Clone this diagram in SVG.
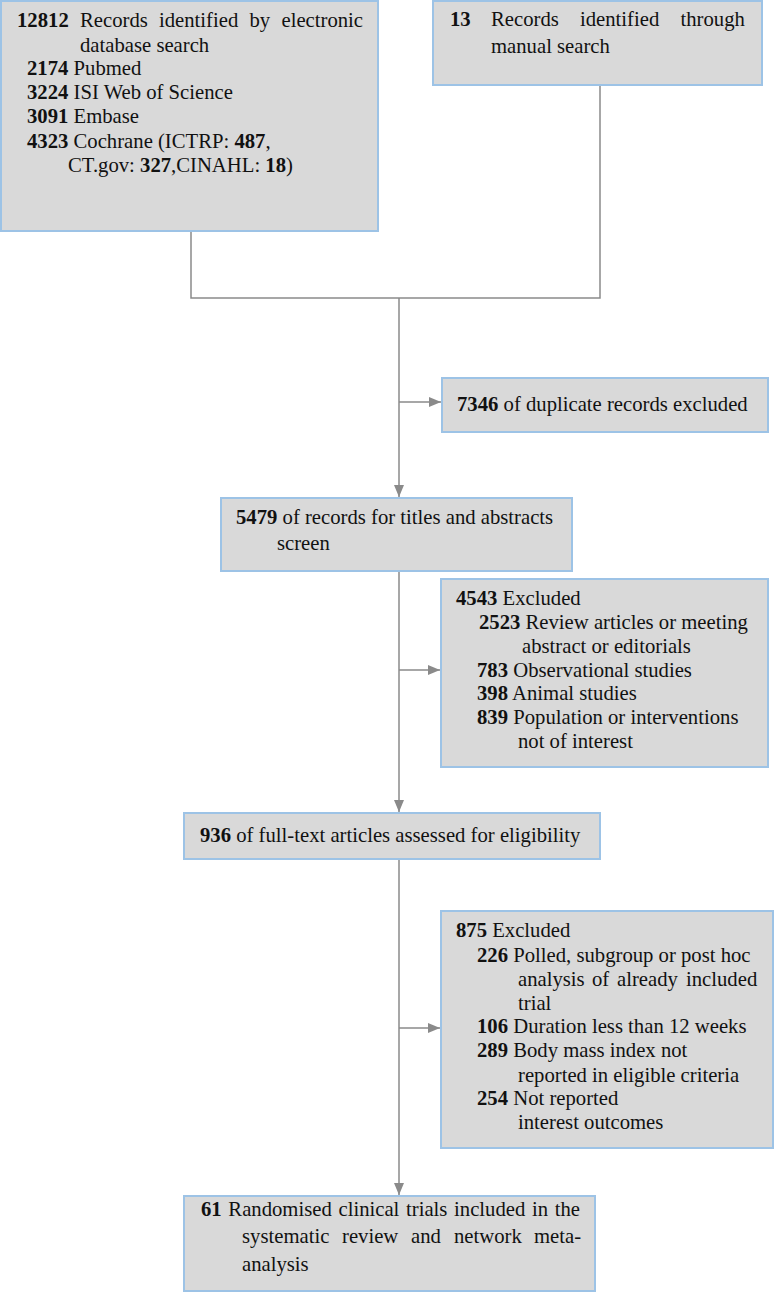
<svg xmlns="http://www.w3.org/2000/svg" width="774" height="1293" viewBox="0 0 774 1293">
<defs>
<style>
.box{fill:#d9d9d9;stroke:#9dc3e6;stroke-width:2}
.t{font-family:"Liberation Serif","Times New Roman",serif;font-size:20.7px;fill:#111}
.b{font-weight:bold}
.c{fill:none;stroke:#8a8a8a;stroke-width:1.5}
</style>
<marker id="ah" markerUnits="userSpaceOnUse" markerWidth="12" markerHeight="12" viewBox="0 0 12 12" refX="12" refY="6" orient="auto">
<path d="M0,1 L12,6 L0,11 Z" fill="#8a8a8a"/>
</marker>
</defs>
<rect width="774" height="1293" fill="#ffffff"/>
<g id="connectors">
<path class="c" d="M191,231 V298 H600 V85"/>
<path class="c" d="M399,298 V497" marker-end="url(#ah)"/>
<path class="c" d="M399,402 H441" marker-end="url(#ah)"/>
<path class="c" d="M399,571 V812" marker-end="url(#ah)"/>
<path class="c" d="M399,670 H440" marker-end="url(#ah)"/>
<path class="c" d="M399,859 V1195" marker-end="url(#ah)"/>
<path class="c" d="M399,1028 H440" marker-end="url(#ah)"/>
</g>
<g id="n1">
<rect class="box" x="1" y="1" width="377" height="230"/>
<text class="t"><tspan class="b" x="17" y="27">12812</tspan><tspan x="80" y="27">Records</tspan><tspan x="159" y="27">identified</tspan><tspan x="249.5" y="27">by</tspan><tspan x="281.5" y="27">electronic</tspan></text>
<text class="t" x="80" y="52">database search</text>
<text class="t" x="27" y="75"><tspan class="b">2174</tspan> Pubmed</text>
<text class="t" x="27" y="99"><tspan class="b">3224</tspan> ISI Web of Science</text>
<text class="t" x="27" y="123"><tspan class="b">3091</tspan> Embase</text>
<text class="t" x="27" y="148"><tspan class="b">4323</tspan> Cochrane (ICTRP: <tspan class="b">487</tspan>,</text>
<text class="t" x="68" y="172">CT.gov: <tspan class="b">327</tspan>,CINAHL: <tspan class="b">18</tspan>)</text>
</g>
<g id="n2">
<rect class="box" x="433" y="1" width="329" height="84"/>
<text class="t"><tspan class="b" x="450" y="26">13</tspan><tspan x="491" y="26">Records</tspan><tspan x="580" y="26">identified</tspan><tspan x="680.5" y="26">through</tspan></text>
<text class="t" x="491" y="53">manual search</text>
</g>
<g id="n3">
<rect class="box" x="442" y="378" width="326" height="54"/>
<text class="t" x="457" y="411"><tspan class="b">7346</tspan> of duplicate records excluded</text>
</g>
<g id="n4">
<rect class="box" x="221" y="498" width="351" height="73"/>
<text class="t" x="236" y="524"><tspan class="b">5479</tspan> of records for titles and abstracts</text>
<text class="t" x="277" y="550">screen</text>
</g>
<g id="n5">
<rect class="box" x="441" y="579" width="327" height="188"/>
<text class="t" x="456" y="605"><tspan class="b">4543</tspan> Excluded</text>
<text class="t" x="479" y="629"><tspan class="b">2523</tspan> Review articles or meeting</text>
<text class="t" x="522" y="653">abstract or editorials</text>
<text class="t" x="477" y="677"><tspan class="b">783</tspan> Observational studies</text>
<text class="t" x="477" y="700"><tspan class="b">398</tspan> Animal studies</text>
<text class="t" x="477" y="724"><tspan class="b">839</tspan> Population or interventions</text>
<text class="t" x="518" y="748">not of interest</text>
</g>
<g id="n6">
<rect class="box" x="184" y="813" width="416" height="46"/>
<text class="t" x="200" y="842"><tspan class="b">936</tspan> of full-text articles assessed for eligibility</text>
</g>
<g id="n7">
<rect class="box" x="441" y="911" width="332" height="237"/>
<text class="t" x="456" y="937"><tspan class="b">875</tspan> Excluded</text>
<text class="t" x="477" y="962"><tspan class="b">226</tspan> Polled, subgroup or post hoc</text>
<text class="t"><tspan x="518" y="986">analysis</tspan><tspan x="592" y="986">of</tspan><tspan x="617" y="986">already</tspan><tspan x="686" y="986">included</tspan></text>
<text class="t" x="518" y="1010">trial</text>
<text class="t" x="477" y="1033"><tspan class="b">106</tspan> Duration less than 12 weeks</text>
<text class="t" x="477" y="1057"><tspan class="b">289</tspan> Body mass index not</text>
<text class="t" x="518" y="1082">reported in eligible criteria</text>
<text class="t" x="477" y="1105"><tspan class="b">254</tspan> Not reported</text>
<text class="t" x="518" y="1129">interest outcomes</text>
</g>
<g id="n8">
<rect class="box" x="184" y="1196" width="411" height="95"/>
<text class="t" x="201" y="1216" word-spacing="1.5"><tspan class="b">61</tspan> Randomised clinical trials included in the</text>
<text class="t"><tspan x="242" y="1243">systematic</tspan><tspan x="342" y="1243">review</tspan><tspan x="411" y="1243">and</tspan><tspan x="454" y="1243">network</tspan><tspan x="534" y="1243">meta-</tspan></text>
<text class="t" x="242" y="1271">analysis</text>
</g>
</svg>
